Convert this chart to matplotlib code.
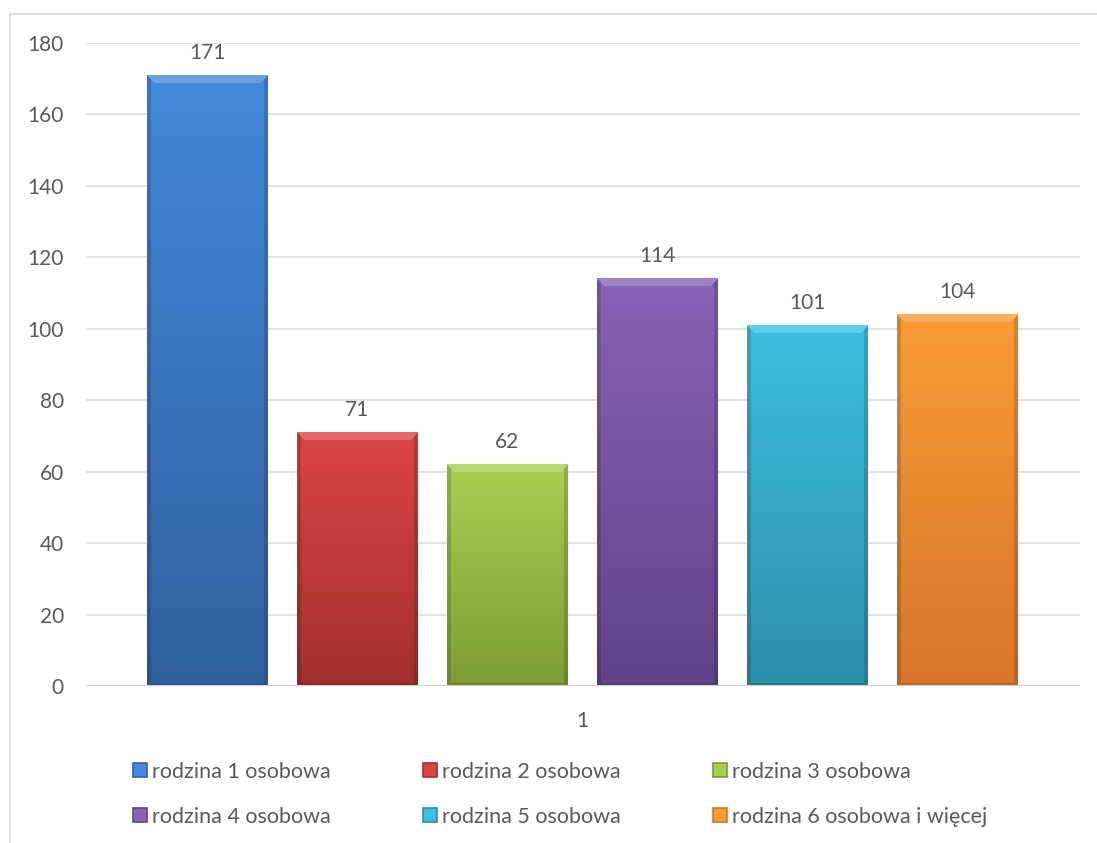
import numpy as np
import matplotlib as mpl
import matplotlib.pyplot as plt
from matplotlib.colors import to_rgb
from matplotlib.patches import Rectangle

plt.rcParams['font.family'] = ['Lato', 'DejaVu Sans']
plt.rcParams['font.size'] = 15

categories = ['rodzina 1 osobowa', 'rodzina 2 osobowa', 'rodzina 3 osobowa',
              'rodzina 4 osobowa', 'rodzina 5 osobowa', 'rodzina 6 osobowa i więcej']
values = [171, 71, 62, 114, 101, 104]
y_ticks = [0, 20, 40, 60, 80, 100, 120, 140, 160, 180]
x_label = '1'

# top / bottom colours of the gradient
tops = ['#4489dc', '#dc4442', '#a8d04f', '#8a62b7', '#3dbfe0', '#fb9b35']
bottoms = ['#2f619f', '#a2302e', '#7d9c36', '#60438a', '#2c8fab', '#d9742a']

W, H = 1097, 843
fig = plt.figure(figsize=(W / 100, H / 100), dpi=100)
ax = fig.add_axes([86 / W, 1 - 686 / H, 994 / W, 643 / H])

text_col = '#595959'
pitch = 150.0
bw = 121 / pitch
x = np.arange(len(values))

for yv in y_ticks[1:]:
    ax.axhline(yv, color='#d9d9d9', lw=1.1, zorder=0)
ax.axhline(0, color='#d0d0d0', lw=1.5, zorder=3)

px_per_unit = 643 / 180.0


def bar_image(top, bot, h, w):
    t = np.array(to_rgb(top))
    b = np.array(to_rgb(bot))
    f = np.linspace(0, 1, h)[:, None, None]
    img = t * (1 - f) + b * f
    img = np.repeat(img, w, axis=1)
    bev = 8
    rr, cc = np.mgrid[0:h, 0:w]
    side = np.minimum(cc, w - 1 - cc)
    topband = (rr < bev) & (side >= rr)
    img[topband] = np.clip(img[topband] * 0.8 + 0.2, 0, 1)
    sideband = (side < 4) & ~topband
    img[sideband] = img[sideband] * 0.85
    botband = (rr >= h - 3) & ~sideband
    img[botband] = img[botband] * 0.85
    return img


bars = ax.bar(x, values, width=bw, color=[to_rgb(t) for t in tops], zorder=2, lw=0)
for i, (b, v) in enumerate(zip(bars, values)):
    hpx = max(int(v * px_per_unit), 2)
    img = bar_image(tops[i], bottoms[i], hpx, 121)
    x0 = b.get_x()
    ax.imshow(img, extent=[x0, x0 + bw, 0, v], aspect='auto', zorder=2.5,
              interpolation='bilinear')
    ax.annotate(str(v), (x[i], v), xytext=(0, 9), textcoords='offset points',
                ha='center', va='bottom', color=text_col, fontsize=15)

ax.set_aspect('auto')
ax.set_xlim((86 - 207.5) / pitch, (1080 - 207.5) / pitch)
ax.set_ylim(0, 180)
ax.set_yticks(y_ticks)
ax.set_xticks([np.mean(x)])
ax.set_xticklabels([x_label])
ax.tick_params(length=0, colors=text_col, labelsize=15)
ax.tick_params(axis='y', pad=16)
ax.tick_params(axis='x', pad=18)
for s in ax.spines.values():
    s.set_visible(False)

# legend drawn by hand: 3 columns, 2 rows
col_x = [133, 423, 713]
row_y = [770, 815]
for i, name in enumerate(categories):
    cx = col_x[i % 3]
    cy = row_y[i // 3]
    sq = 14
    fig.add_artist(Rectangle(((cx) / W, 1 - (cy + sq / 2) / H), sq / W, sq / H,
                             facecolor=tops[i], edgecolor=bottoms[i], lw=1.2,
                             transform=fig.transFigure))
    fig.text((cx + sq + 5) / W, 1 - cy / H, name, ha='left', va='center_baseline',
             color=text_col, fontsize=15.5)

# chart border (left and top)
fig.add_artist(plt.Line2D([9.5 / W, 9.5 / W], [0, 1 - 14 / H], color='#d9d9d9', lw=1.2))
fig.add_artist(plt.Line2D([9.5 / W, 1], [1 - 14 / H, 1 - 14 / H], color='#d9d9d9', lw=1.2))

fig.savefig('out.png', dpi=100)
